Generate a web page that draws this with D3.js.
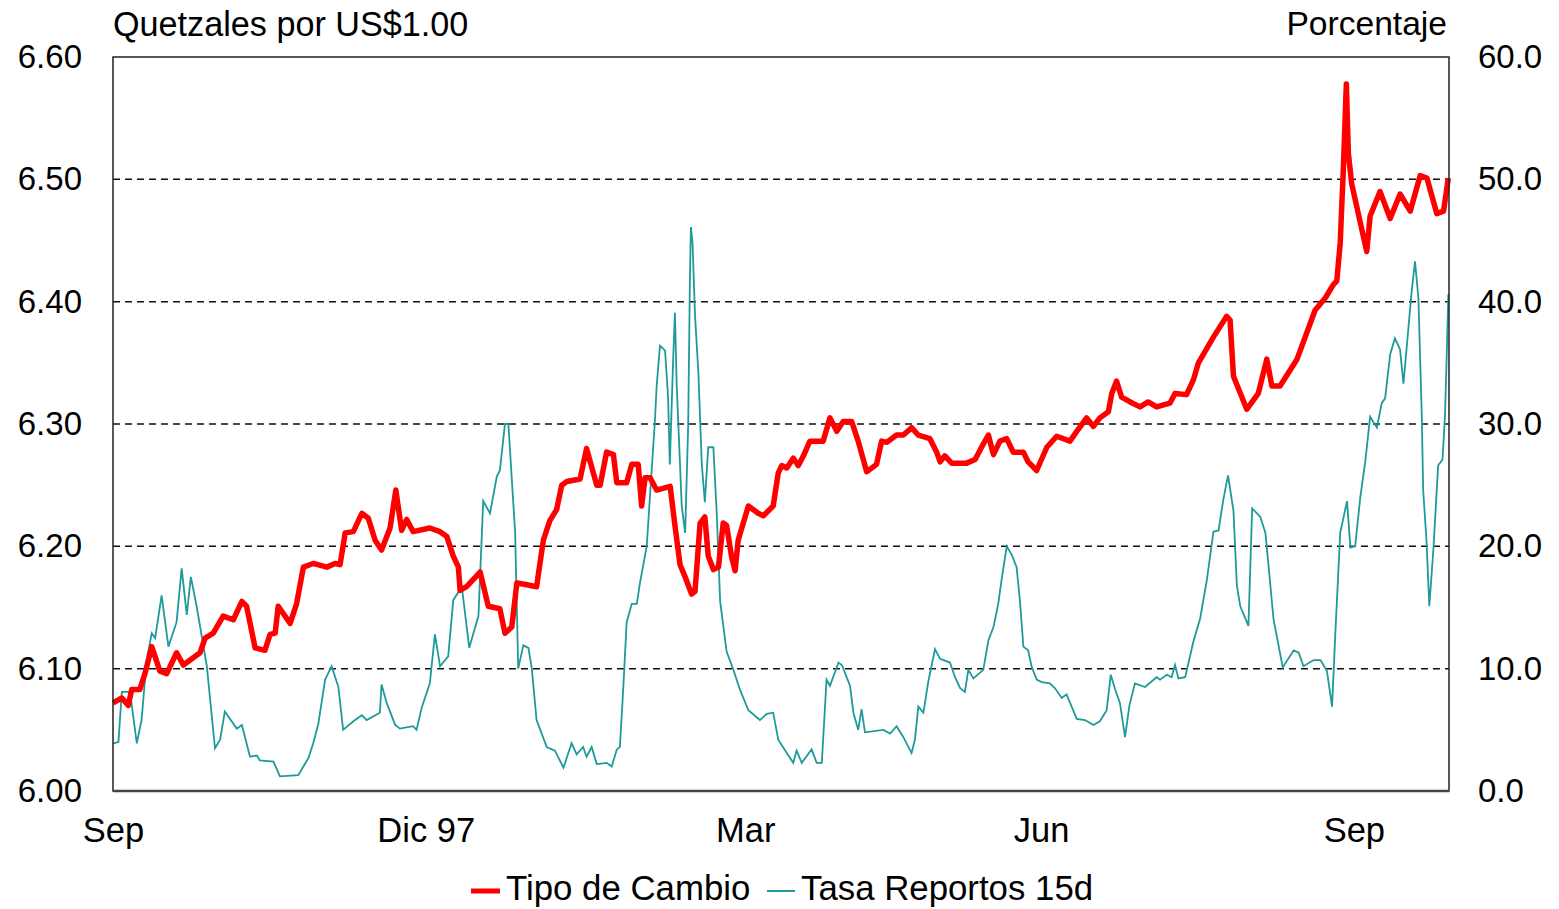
<!DOCTYPE html>
<html>
<head>
<meta charset="utf-8">
<script src="https://cdn.jsdelivr.net/npm/d3@7.9.0/dist/d3.min.js"></script>
<style>
  body { margin: 0; background: #fff; }
  svg { display: block; font-family: "Liberation Sans", Arial, sans-serif; }
  .tick text { font-size: 33px; fill: #000; }
  .ejeX .tick text { font-size: 34.5px; }
</style>
</head>
<body>
<svg id="grafica" width="1559" height="909"></svg>
<script>
// dias desde el 1 de septiembre de 1997
const tcDias = [
  0, 2.6, 4.5, 5.5, 7.9, 9.4, 11.4, 13.8, 15.8, 18.7,
  20.7, 22.7, 25.6, 27.1, 29.5, 32.4, 35.4, 37.9, 39.3, 41.8,
  44.7, 46.2, 47.7, 48.6, 52.1, 54.0, 56.0, 58.9, 62.9, 65.3,
  66.8, 68.3, 70.7, 73.2, 75.1, 77.1, 79.0, 81.5, 83.2, 84.9,
  86.4, 88.3, 93.2, 96.2, 98.2, 100.1, 101.6, 102.1, 104.0, 106.0,
  108.0, 110.4, 113.8, 115.3, 117.3, 118.8, 121.0, 124.6, 126.6, 128.5,
  130.5, 132.0, 133.5, 137.4, 139.3, 142.3, 143.3, 145.2, 147.2, 148.2,
  151.1, 152.6, 154.5, 155.5, 156.5, 158.0, 159.9, 163.9, 165.3, 166.8,
  168.3, 170.2, 171.2, 172.7, 174.1, 175.1, 176.6, 178.1, 179.5, 180.5,
  182.0, 183.0, 183.9, 186.9, 189.8, 191.3, 194.2, 195.7, 196.7, 198.2,
  200.1, 201.6, 203.1, 205.0, 208.9, 210.9, 212.9, 214.8, 217.3, 219.2,
  221.7, 224.6, 226.1, 227.6, 230.5, 232.5, 234.9, 236.9, 240.3, 242.3,
  243.3, 244.7, 246.7, 251.1, 253.6, 255.5, 257.5, 259.0, 260.9, 262.9,
  264.8, 267.8, 269.2, 271.7, 274.7, 277.6, 281.5, 283.5, 286.4, 288.4,
  290.3, 292.8, 293.8, 295.2, 296.7, 299.2, 302.1, 304.5, 307.0, 310.9,
  312.4, 315.8, 317.8, 319.3, 323.7, 327.6, 328.6, 329.6, 333.5, 336.9,
  339.4, 340.9, 343.3, 348.3, 353.6, 356.6, 359.0, 360.0, 361.0, 362.0,
  362.8, 363.4, 364.4, 368.8, 369.8, 372.7, 375.7, 378.6, 381.6, 384.5,
  386.5, 389.4, 391.4, 392.8
];
const tcValores = [
  6.072, 6.076, 6.070, 6.083, 6.083, 6.096, 6.118, 6.098, 6.096, 6.113,
  6.103, 6.107, 6.113, 6.125, 6.129, 6.143, 6.140, 6.155, 6.151, 6.117,
  6.115, 6.128, 6.129, 6.151, 6.137, 6.153, 6.183, 6.186, 6.183, 6.186,
  6.185, 6.211, 6.212, 6.227, 6.223, 6.205, 6.197, 6.215, 6.246, 6.213,
  6.222, 6.212, 6.215, 6.212, 6.208, 6.192, 6.183, 6.164, 6.167, 6.173,
  6.179, 6.151, 6.149, 6.129, 6.134, 6.170, 6.169, 6.167, 6.205, 6.221,
  6.230, 6.250, 6.253, 6.255, 6.280, 6.250, 6.250, 6.277, 6.275, 6.252,
  6.252, 6.267, 6.267, 6.233, 6.256, 6.256, 6.246, 6.249, 6.217, 6.185,
  6.175, 6.161, 6.163, 6.219, 6.224, 6.192, 6.181, 6.183, 6.219, 6.217,
  6.191, 6.180, 6.205, 6.233, 6.227, 6.225, 6.233, 6.260, 6.266, 6.264,
  6.272, 6.266, 6.274, 6.286, 6.286, 6.305, 6.294, 6.302, 6.302, 6.286,
  6.261, 6.267, 6.286, 6.285, 6.291, 6.291, 6.297, 6.291, 6.288, 6.277,
  6.269, 6.274, 6.268, 6.268, 6.271, 6.281, 6.291, 6.275, 6.286, 6.288,
  6.277, 6.277, 6.269, 6.262, 6.281, 6.290, 6.286, 6.294, 6.305, 6.298,
  6.305, 6.310, 6.325, 6.335, 6.322, 6.318, 6.314, 6.318, 6.314, 6.317,
  6.325, 6.324, 6.336, 6.350, 6.371, 6.388, 6.385, 6.339, 6.312, 6.325,
  6.353, 6.331, 6.331, 6.353, 6.393, 6.403, 6.414, 6.417, 6.448, 6.514,
  6.578, 6.521, 6.496, 6.441, 6.470, 6.490, 6.468, 6.488, 6.474, 6.503,
  6.501, 6.472, 6.474, 6.501
];

const trDias = [
  0, 1.6, 2.6, 5.0, 7.0, 8.4, 9.9, 11.4, 12.4, 14.3,
  16.3, 18.7, 20.2, 21.7, 22.9, 24.6, 27.6, 30.0, 31.5, 32.9,
  36.4, 37.9, 40.3, 42.3, 43.2, 47.2, 49.1, 54.5, 57.5, 58.9,
  60.4, 62.4, 64.3, 66.3, 67.7, 70.7, 73.2, 74.6, 78.5, 79.0,
  80.5, 83.0, 84.4, 88.3, 89.3, 90.8, 93.2, 94.7, 96.2, 98.6,
  100.1, 102.6, 104.8, 107.5, 108.9, 110.9, 112.9, 113.8, 115.3, 116.3,
  118.3, 119.2, 120.7, 122.2, 123.2, 124.6, 127.6, 130.0, 132.5, 134.9,
  136.4, 138.3, 139.3, 140.8, 142.3, 145.2, 146.7, 148.2, 149.1, 150.1,
  151.1, 152.6, 154.1, 155.0, 157.0, 158.5, 159.4, 159.9, 160.9, 162.4,
  163.3, 163.8, 164.8, 165.3, 165.8, 167.3, 168.3, 169.2, 169.7, 170.0,
  170.5, 171.2, 172.2, 173.2, 174.1, 175.1, 176.6, 177.6, 178.6, 180.5,
  182.5, 184.4, 186.9, 190.3, 192.3, 194.2, 195.7, 198.2, 200.1, 201.1,
  202.6, 205.5, 207.0, 208.5, 209.9, 210.9, 213.4, 214.4, 216.8, 217.8,
  219.2, 220.2, 221.2, 226.6, 228.6, 230.5, 232.5, 234.9, 235.9, 236.9,
  238.4, 239.8, 241.8, 243.3, 246.2, 247.7, 249.2, 250.6, 251.6, 253.1,
  256.0, 257.5, 259.0, 260.4, 261.4, 262.9, 264.4, 265.8, 266.8, 267.8,
  269.2, 270.2, 271.7, 273.2, 275.6, 277.1, 279.1, 280.5, 283.5, 285.9,
  288.4, 290.3, 292.3, 293.5, 294.8, 296.2, 297.7, 299.0, 300.6, 303.6,
  307.0, 308.0, 310.0, 311.4, 312.4, 313.4, 315.4, 316.8, 317.8, 319.8,
  321.8, 323.7, 325.2, 326.6, 328.0, 329.6, 330.6, 331.6, 334.0, 335.1,
  337.5, 339.0, 341.4, 344.1, 347.3, 348.8, 350.2, 353.2, 355.2, 357.1,
  358.6, 359.6, 361.0, 363.0, 364.0, 365.4, 366.9, 368.4, 369.8, 371.8,
  373.2, 374.2, 375.7, 377.1, 378.6, 379.6, 380.6, 382.0, 383.0, 384.0,
  385.0, 385.4, 386.4, 387.2, 388.4, 389.8, 391.1, 391.8, 392.3, 392.8
];
const trValores = [
  3.9, 4.0, 8.1, 8.1, 3.9, 5.8, 10.7, 12.9, 12.5, 16.0,
  11.8, 13.8, 18.2, 14.4, 17.5, 15.1, 10.2, 3.5, 4.2, 6.5,
  5.1, 5.4, 2.8, 2.9, 2.5, 2.4, 1.2, 1.3, 2.7, 3.9,
  5.5, 9.1, 10.2, 8.5, 5.0, 5.7, 6.2, 5.8, 6.4, 8.7,
  7.2, 5.4, 5.1, 5.3, 5.0, 6.8, 8.8, 12.8, 10.2, 11.0,
  15.6, 16.7, 11.7, 14.3, 23.7, 22.7, 25.7, 26.2, 30.0, 30.0,
  21.1, 10.0, 11.9, 11.7, 10.0, 5.8, 3.6, 3.3, 1.9, 3.9,
  3.0, 3.6, 2.8, 3.6, 2.2, 2.3, 2.0, 3.4, 3.6, 8.4,
  13.8, 15.3, 15.3, 17.0, 20.0, 26.4, 30.2, 33.0, 36.4, 36.0,
  32.1, 26.7, 35.5, 39.1, 33.3, 23.3, 21.1, 29.9, 41.8, 46.1,
  44.7, 38.9, 34.2, 26.7, 23.6, 28.1, 28.1, 22.7, 15.5, 11.4,
  9.9, 8.3, 6.6, 5.8, 6.3, 6.4, 4.2, 3.1, 2.3, 3.3,
  2.3, 3.4, 2.3, 2.3, 9.1, 8.6, 10.5, 10.3, 8.6, 6.4,
  5.0, 6.7, 4.8, 5.0, 4.7, 5.3, 4.4, 3.1, 4.2, 6.9,
  6.4, 8.9, 11.6, 10.8, 10.5, 9.3, 8.4, 8.1, 9.9, 9.2,
  9.9, 12.3, 13.4, 15.3, 17.3, 20.0, 19.3, 18.3, 15.5, 11.8,
  11.5, 10.2, 9.1, 8.9, 8.8, 8.4, 7.6, 7.9, 5.9, 5.8,
  5.4, 5.7, 6.6, 9.5, 8.3, 7.2, 4.4, 7.0, 8.8, 8.5,
  9.3, 9.1, 9.5, 9.3, 10.3, 9.2, 9.3, 11.0, 12.2, 14.1,
  17.3, 21.2, 21.3, 23.8, 25.8, 22.9, 16.8, 15.1, 13.5, 23.1,
  22.4, 21.1, 14.0, 10.1, 11.5, 11.3, 10.2, 10.7, 10.7, 9.8,
  6.9, 13.1, 21.1, 23.7, 19.9, 20.0, 24.0, 27.0, 30.6, 29.7,
  31.7, 32.1, 35.7, 37.0, 36.1, 33.3, 36.4, 40.8, 43.3, 40.3,
  30.6, 24.6, 20.4, 15.1, 19.7, 26.6, 27.1, 30.6, 35.3, 40.6
];

const marcasFecha = ["1997-09-01", "1997-12-02", "1998-03-06", "1998-06-01", "1998-09-01"];
const marcasTexto = ["Sep", "Dic 97", "Mar", "Jun", "Sep"];
const marcasIzq = [6.0, 6.1, 6.2, 6.3, 6.4, 6.5, 6.6];
const marcasDer = [0, 10, 20, 30, 40, 50, 60];

const inicio = new Date(1997, 8, 1);
const aFecha = d => new Date(+inicio + d * 864e5);
const parse = d3.timeParse("%Y-%m-%d");

const margen = { left: 113, right: 1449, top: 57, bottom: 791 };

const x = d3.scaleTime()
  .domain([inicio, aFecha(393)])
  .range([margen.left, margen.right]);
const yIzq = d3.scaleLinear().domain([6.0, 6.6]).range([margen.bottom, margen.top]);
const yDer = d3.scaleLinear().domain([0, 60]).range([margen.bottom, margen.top]);

const svg = d3.select('#grafica');
svg.append('rect').attr('width', 1559).attr('height', 909).attr('fill', '#fff');

// lineas de cuadricula
svg.append('g')
  .selectAll('line')
  .data(marcasIzq.slice(1, -1))
  .join('line')
  .attr('x1', margen.left)
  .attr('x2', margen.right)
  .attr('y1', d => yIzq(d))
  .attr('y2', d => yIzq(d))
  .attr('stroke', '#111')
  .attr('stroke-width', 1.5)
  .attr('stroke-dasharray', '7,5');

const tasa = trDias.map((d, i) => ({ fecha: aFecha(d), valor: trValores[i] }));
const cambio = tcDias.map((d, i) => ({ fecha: aFecha(d), valor: tcValores[i] }));

svg.append('path')
  .datum(tasa)
  .attr('fill', 'none')
  .attr('stroke', '#1f9a9a')
  .attr('stroke-width', 1.8)
  .attr('d', d3.line().x(d => x(d.fecha)).y(d => yDer(d.valor)));

svg.append('path')
  .datum(cambio)
  .attr('fill', 'none')
  .attr('stroke', '#ff0000')
  .attr('stroke-width', 5.5)
  .attr('stroke-linejoin', 'round')
  .attr('d', d3.line().x(d => x(d.fecha)).y(d => yIzq(d.valor)));

// marco
svg.append('rect')
  .attr('x', margen.left)
  .attr('y', margen.top)
  .attr('width', margen.right - margen.left)
  .attr('height', margen.bottom - margen.top)
  .attr('fill', 'none')
  .attr('stroke', '#222')
  .attr('stroke-width', 1.5);
svg.append('line')
  .attr('x1', margen.left).attr('x2', margen.right)
  .attr('y1', margen.bottom).attr('y2', margen.bottom)
  .attr('stroke', '#444').attr('stroke-width', 2.5);

// ejes
const ejeIzq = svg.append('g')
  .attr('transform', `translate(${margen.left},0)`)
  .call(d3.axisLeft(yIzq).tickValues(marcasIzq).tickFormat(d3.format('.2f')).tickSize(0).tickPadding(31));
const ejeDer = svg.append('g')
  .attr('transform', `translate(${margen.right},0)`)
  .call(d3.axisRight(yDer).tickValues(marcasDer).tickFormat(d3.format('.1f')).tickSize(0).tickPadding(29));
const ejeX = svg.append('g')
  .attr('class', 'ejeX')
  .attr('transform', `translate(0,${margen.bottom})`)
  .call(d3.axisBottom(x)
    .tickValues(marcasFecha.map(parse))
    .tickFormat((d, i) => marcasTexto[i])
    .tickSize(0).tickPadding(27));
[ejeIzq, ejeDer, ejeX].forEach(g => g.select('.domain').remove());
svg.selectAll('.tick text').attr('font-family', null).attr('font-size', null);

// titulos de ejes
svg.append('text')
  .attr('x', 113).attr('y', 36)
  .attr('font-size', 34.2)
  .text('Quetzales por US$1.00');
svg.append('text')
  .attr('x', 1447).attr('y', 35)
  .attr('font-size', 33.6)
  .attr('text-anchor', 'end')
  .text('Porcentaje');

// leyenda
const leyenda = [
  { texto: 'Tipo de Cambio', color: '#ff0000', grosor: 5, x0: 471, x1: 500, xt: 506 },
  { texto: 'Tasa Reportos 15d', color: '#1f9a9a', grosor: 2, x0: 767, x1: 795, xt: 801 }
];
const gLey = svg.append('g');
leyenda.forEach(l => {
  gLey.append('line')
    .attr('x1', l.x0).attr('x2', l.x1)
    .attr('y1', 891).attr('y2', 891)
    .attr('stroke', l.color).attr('stroke-width', l.grosor);
  gLey.append('text')
    .attr('x', l.xt).attr('y', 900)
    .attr('font-size', 34.8)
    .text(l.texto);
});
</script>
</body>
</html>
